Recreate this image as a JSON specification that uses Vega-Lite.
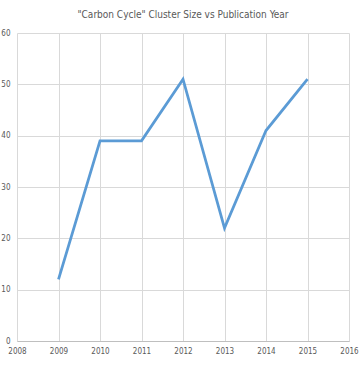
{
  "$schema": "https://vega.github.io/schema/vega-lite/v6.json",
  "width": 332,
  "height": 308,
  "autosize": {"type": "none"},
  "padding": {"left": 17, "top": 33, "right": 13, "bottom": 27},
  "background": "white",
  "title": {
    "text": "\"Carbon Cycle\" Cluster Size vs Publication Year",
    "font": "'DejaVu Sans Condensed', 'Open Sans', sans-serif",
    "fontSize": 10,
    "fontWeight": "normal",
    "color": "#595959",
    "anchor": "middle",
    "offset": 9
  },
  "config": {
    "view": {"stroke": null},
    "axis": {
      "labelFont": "'DejaVu Sans Condensed', 'Open Sans', sans-serif",
      "labelFontSize": 8,
      "labelColor": "#595959",
      "gridColor": "#d9d9d9",
      "gridWidth": 1,
      "ticks": false,
      "title": null
    }
  },
  "data": {
    "values": [
      {"year": 2009, "size": 12},
      {"year": 2010, "size": 39},
      {"year": 2011, "size": 39},
      {"year": 2012, "size": 51},
      {"year": 2013, "size": 22},
      {"year": 2014, "size": 41},
      {"year": 2015, "size": 51}
    ]
  },
  "mark": {"type": "line", "color": "#5b9bd5", "strokeWidth": 2.75},
  "encoding": {
    "x": {
      "field": "year",
      "type": "quantitative",
      "scale": {"domain": [2008, 2016], "nice": false, "zero": false},
      "axis": {
        "values": [2008, 2009, 2010, 2011, 2012, 2013, 2014, 2015, 2016],
        "format": "d",
        "labelPadding": 6,
        "domainColor": "#bfbfbf",
        "labelFlush": false,
        "labelOverlap": false
      }
    },
    "y": {
      "field": "size",
      "type": "quantitative",
      "scale": {"domain": [0, 60], "nice": false},
      "axis": {
        "values": [0, 10, 20, 30, 40, 50, 60],
        "domain": false,
        "labelPadding": 7
      }
    }
  }
}
